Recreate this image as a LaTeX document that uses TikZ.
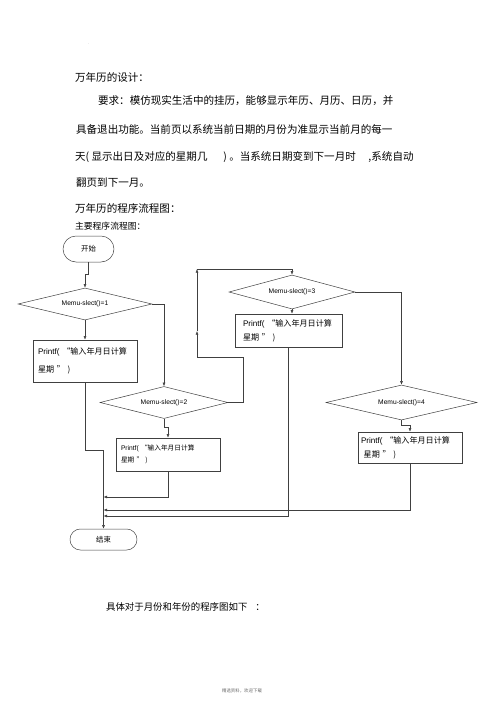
\documentclass[tikz,border=0pt]{standalone}
\usepackage{fontspec}
\setmainfont{Liberation Sans}
\newfontfamily\cjk{Noto Sans CJK SC}
\usepackage{tikz}
\usetikzlibrary{arrows,arrows.meta,shapes.geometric}

\begin{document}
\begin{tikzpicture}[x=0.05cm,y=-0.05cm,
  line/.style={draw=black!75,line width=0.25mm},
  arr/.style={line,-{Latex[length=5pt,width=4pt]}},
  term/.style={line,rectangle,font=\cjk\fontsize{10.5}{12}\selectfont},
  test/.style={line,diamond,shape aspect=4,inner sep=0pt,font=\fontsize{9.5}{11}\selectfont},
  io/.style={line,rectangle,align=left,inner sep=0pt},
  para/.style={anchor=west,inner sep=0pt,font=\cjk\fontsize{15}{18}\selectfont}]
\useasboundingbox (0,0) rectangle (500,708);
%
\node[anchor=west,inner sep=0pt,font=\fontsize{5}{6}\selectfont,text=black!50] (dot) at (88,44) {.};
\node[para] (title) at (75,77) {万年历的设计：};
\node[para] (req1) at (98,101) {要求：模仿现实生活中的挂历，能够显示年历、月历、日历，并};
\node[para] (req2) at (76,129) {具备退出功能。当前页以系统当前日期的月份为准显示当前月的每一};
\node[para] (req3) at (75,157) {天( 显示出日及对应的星期几\hspace{1.5em}) 。当系统日期变到下一月时\hspace{1.2em},系统自动};
\node[para] (req4) at (76,183) {翻页到下一月。};
\node[para] (title2) at (75,208) {万年历的程序流程图：};
\node[para,font=\cjk\fontsize{12.5}{14}\selectfont] (sub) at (75,226) {主要程序流程图：};
%
\node[term,minimum width=2.55cm,minimum height=1.3cm,rounded corners=0.65cm] (start) at (88.5,249) {开始};
\node[test,minimum width=6.7cm,minimum height=1.6cm] (d1) at (85,304) {Memu-slect()=1};
\node[io,minimum width=5.2cm,minimum height=2.1cm,text width=4.7cm,font=\fontsize{11.5}{25}\selectfont] (b1) at (85,361) {Printf( {\cjk “输入年月日计算}\\{\cjk 星期 ” )}};
\node[test,minimum width=6.4cm,minimum height=1.6cm] (d2) at (164,402.5) {Memu-slect()=2};
\node[io,minimum width=5.2cm,minimum height=1.65cm,text width=4.7cm,font=\fontsize{9.5}{17}\selectfont] (b2) at (168,454.5) {Printf( {\cjk “输入年月日计算}\\{\cjk 星期 ” )}};
\node[test,minimum width=6.3cm,minimum height=1.7cm] (d3) at (292,292) {Memu-slect()=3};
\node[io,minimum width=5.35cm,minimum height=1.65cm,text width=4.55cm,font=\fontsize{11.5}{20}\selectfont] (b3) at (288.5,330.5) {Printf( {\cjk “输入年月日计算}\\{\cjk 星期 ” )}};
\node[test,minimum width=7.55cm,minimum height=1.75cm] (d4) at (401.5,402.5) {Memu-slect()=4};
\node[io,minimum width=5.2cm,minimum height=1.55cm,text width=4.9cm,font=\fontsize{11.5}{20}\selectfont] (b4) at (410,447.5) {Printf( {\cjk “输入年月日计算}\\{\cjk \ 星期 ” )}};
\node[term,minimum width=3.35cm,minimum height=1.05cm,rounded corners=0.52cm] (end) at (103.5,539.5) {结束};
%
\draw[arr] (start.south) -- ++(0,12) -| (d1.north);
\draw[arr] (d1.south) -- (b1.north);
\draw[arr] (d1.east) -| (d2.north);
\draw[arr] (d2.south) -- ++(0,8) -| (b2.north);
% back up to the third test
\coordinate (lpR) at (243,357);
\coordinate (lpL) at (197,357);
\coordinate (lpM) at (197,331);
\coordinate (lpT) at (197,269);
\draw[line] (d2.east) -| (lpR) -- (lpL);
\draw[arr] (lpL) -- (lpM);
\draw[arr] (lpM) -- (lpT);
\draw[arr] (lpT) -| (d3.north);
\draw[arr] (d3.south) -- (d3.south |- b3.north);
\draw[arr] (d3.east) -| (d4.north);
\draw[arr] (d4.south) -- ++(0,5) -| (b4.north);
% joins down to the end
\coordinate (j1) at (103.5,450);
\coordinate (j2) at (103.5,497);
\coordinate (j3) at (103.5,510);
\coordinate (j4) at (103.5,516);
\draw[line] (b1.south) |- (j1);
\draw[arr] (j1) -- (end.north);
\draw[arr] (b2.south) |- (j2);
\draw[arr] (b4.south) |- (j3);
\draw[arr] (b3.south) |- (j4);
%
\node[para,font=\cjk\fontsize{13.4}{15}\selectfont] (next) at (106,607) {具体对于月份和年份的程序图如下\hspace{0.85em}：};
\node[font=\cjk\fontsize{6.3}{7}\selectfont,text=black!60] (foot) at (242,691) {精选资料，欢迎下载};
\end{tikzpicture}
\end{document}
